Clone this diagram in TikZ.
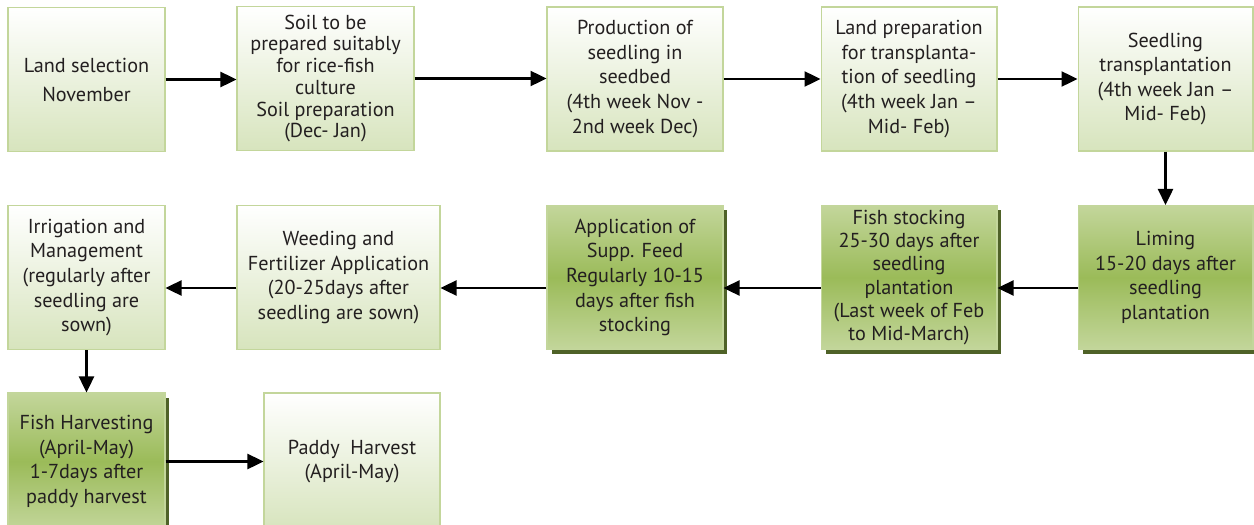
\documentclass[tikz,border=0pt]{standalone}
\usepackage{fontspec}
\setmainfont{PT Sans}
\usetikzlibrary{arrows.meta,shadows}
\definecolor{ink}{HTML}{231F20}
\definecolor{edge}{HTML}{C3D69B}
\definecolor{paleg}{HTML}{D7E4BD}
\definecolor{midg}{HTML}{9BBB59}
\definecolor{lightg}{HTML}{C3D69B}
\definecolor{shade}{HTML}{4F6228}
\tikzset{
  box/.style={draw=edge, line width=0.6pt, align=center, text=ink, inner sep=2pt,
    font=\fontsize{11.5}{14}\selectfont, minimum height=2.88cm},
  pale/.style={box, top color=white, bottom color=paleg},
  deep/.style={box, top color=lightg, bottom color=lightg, middle color=midg,
    drop shadow={shadow xshift=0.09cm, shadow yshift=-0.09cm, fill=shade, opacity=1}},
  tight/.style={font=\fontsize{11.5}{12.4}\selectfont},
  flow/.style={draw=black, line width=1.4pt, -{Triangle[length=0.32cm,width=0.3cm]}},
}

\begin{document}
\begin{tikzpicture}[x=0.02cm, y=-0.02cm]
  \useasboundingbox (0,0) rectangle (1254,524);

  % first row
  \node[pale, minimum width=3.14cm] (land)  at (86.5,79.5)  {Land selection\\[2.5pt]November};
  \node[pale, tight, minimum width=3.54cm] (soil)  at (325.5,78.5) {Soil to be\\prepared suitably\\for rice-fish\\culture\\Soil preparation\\(Dec- Jan)};
  \node[pale, minimum width=3.52cm] (nursery) at (635,79) {Production of\\seedling in\\seedbed\\(4th week Nov -\\2nd week Dec)};
  \node[pale, minimum width=3.52cm] (prep)  at (909,79)  {Land preparation\\for transplanta-\\tion of seedling\\(4th week Jan --\\Mid- Feb)};
  \node[pale, minimum width=3.5cm]  (trans) at (1165.5,79) {Seedling\\transplantation\\(4th week Jan --\\Mid- Feb)};

  % second row
  \node[deep, minimum width=3.5cm]  (lime)  at (1165.5,277.5) {Liming\\15-20 days after\\seedling\\plantation};
  \node[deep, font=\fontsize{11.5}{13.3}\selectfont, minimum width=3.52cm] (stock) at (909,277.5) {Fish stocking\\25-30 days after\\seedling\\plantation\\(Last week of Feb\\to Mid-March)};
  \node[deep, minimum width=3.52cm] (feed)  at (635,277.5) {Application of\\Supp. Feed\\Regularly 10-15\\days after fish\\stocking};
  \node[pale, minimum width=4.06cm] (weed)  at (338.5,277.5) {Weeding and\\Fertilizer Application\\(20-25days after\\seedling are sown)};
  \node[pale, minimum width=3.14cm] (irrig) at (86.5,277.5) {Irrigation and\\Management\\(regularly after\\seedling are\\sown)};

  % third row
  \node[deep, minimum width=3.14cm, minimum height=2.74cm] (fishh) at (86.5,461.5) {Fish Harvesting\\(April-May)\\1-7days after\\paddy harvest};
  \node[pale, minimum width=3.52cm, minimum height=2.74cm] (paddy) at (352,461.5) {Paddy\ \ Harvest\\(April-May)};

  % connectors
  \draw[flow] (land) -- (land -| soil.west);
  \draw[flow] (soil) -- (soil -| nursery.west);
  \draw[flow] (nursery) -- (nursery -| prep.west);
  \draw[flow] (prep) -- (prep -| trans.west);
  \draw[flow] (trans) -- (lime);
  \draw[flow] ([yshift=-0.21cm]lime.west) -- ([yshift=-0.21cm]stock.east);
  \draw[flow] ([yshift=-0.21cm]stock.west) -- ([yshift=-0.21cm]feed.east);
  \draw[flow] ([yshift=-0.21cm]feed.west) -- ([yshift=-0.21cm]weed.east);
  \draw[flow] ([yshift=-0.21cm]weed.west) -- ([yshift=-0.21cm]irrig.east);
  \draw[flow] (irrig) -- (fishh);
  \draw[flow] (fishh) -- (fishh -| paddy.west);
\end{tikzpicture}
\end{document}
